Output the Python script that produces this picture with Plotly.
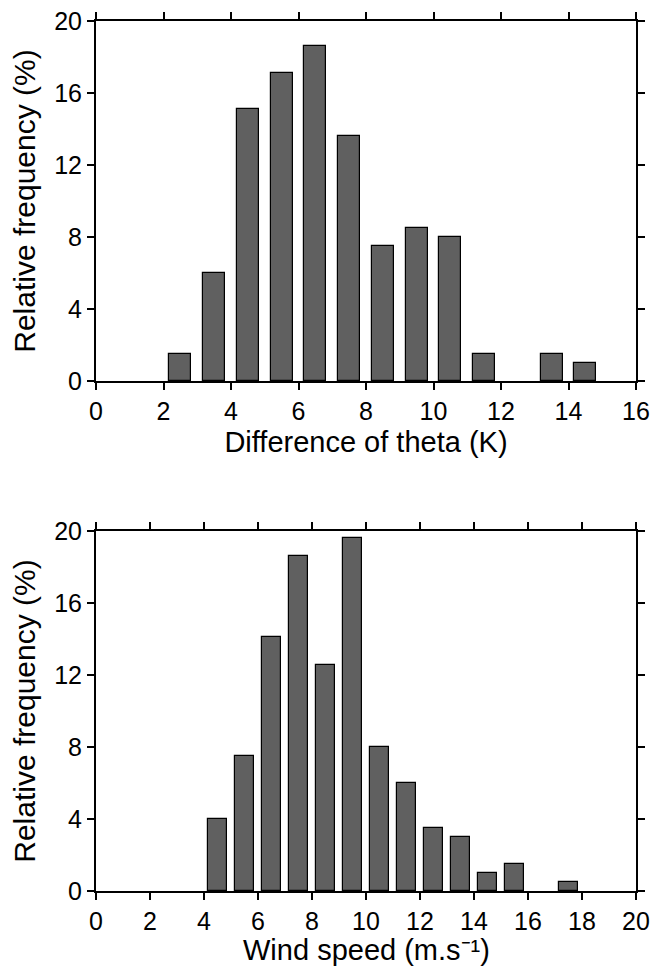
import plotly.graph_objects as go

# Top panel: difference of potential temperature (K)
theta_centers = [2.5, 3.5, 4.5, 5.5, 6.5, 7.5, 8.5, 9.5, 10.5, 11.5, 12.5, 13.5, 14.5]
theta_freq = [1.5, 6.0, 15.1, 17.1, 18.6, 13.6, 7.5, 8.5, 8.0, 1.5, 0.0, 1.5, 1.0]

# Bottom panel: wind speed (m/s)
wind_centers = [4.5, 5.5, 6.5, 7.5, 8.5, 9.5, 10.5, 11.5, 12.5, 13.5, 14.5, 15.5, 16.5, 17.5]
wind_freq = [4.0, 7.5, 14.1, 18.6, 12.55, 19.6, 8.0, 6.0, 3.5, 3.0, 1.0, 1.5, 0.0, 0.5]

W, H = 652, 968
FONT = "Liberation Sans, Arial, Helvetica, sans-serif"
BAR_COLOR = "#606060"


def outline_widths(vals):
    return [1.2 if v > 0 else 0 for v in vals]


fig = go.Figure()
fig.add_trace(go.Bar(x=theta_centers, y=theta_freq, width=0.65,
                     marker=dict(color=BAR_COLOR,
                                 line=dict(color="black", width=outline_widths(theta_freq))),
                     xaxis="x", yaxis="y", showlegend=False))
fig.add_trace(go.Bar(x=wind_centers, y=wind_freq, width=0.7,
                     marker=dict(color=BAR_COLOR,
                                 line=dict(color="black", width=outline_widths(wind_freq))),
                     xaxis="x2", yaxis="y2", showlegend=False))

xdom = [96 / W, 636 / W]
top_dom = [1 - 381 / H, 1 - 21 / H]
bot_dom = [1 - 891 / H, 1 - 531 / H]


def xax(title, rng, dom_anchor):
    d = dict(domain=xdom, anchor=dom_anchor, range=rng, dtick=2, tick0=0,
             showline=True, linecolor="black", linewidth=2, mirror="ticks",
             ticks="outside", ticklen=7, tickwidth=1.5, tickcolor="black",
             showgrid=False, zeroline=False, fixedrange=True, automargin=False,
             tickfont=dict(family=FONT, size=25, color="black"))
    if title:
        d["title"] = dict(text=title, font=dict(family=FONT, size=29, color="black"),
                          standoff=8)
    return d


def yax(dom, dom_anchor):
    return dict(domain=dom, anchor=dom_anchor, range=[0, 20], dtick=4, tick0=0,
                showline=True, linecolor="black", linewidth=2, mirror="ticks",
                ticks="outside", ticklen=7, tickwidth=1.5, tickcolor="black",
                showgrid=False, zeroline=False, fixedrange=True, automargin=False,
                tickfont=dict(family=FONT, size=25, color="black"),
                title=dict(text="Relative frequency (%)",
                           font=dict(family=FONT, size=30, color="black"),
                           standoff=10))


fig.update_layout(
    width=W, height=H,
    margin=dict(l=0, r=0, t=0, b=0),
    paper_bgcolor="white", plot_bgcolor="white",
    xaxis=xax("Difference of theta (K)", [0, 16], "y"),
    yaxis=yax(top_dom, "x"),
    xaxis2=xax(None, [0, 20], "y2"),
    yaxis2=yax(bot_dom, "x2"),
    bargap=0,
    annotations=[dict(text="Wind speed (m.s⁻¹)", xref="paper", yref="paper",
                      x=(xdom[0] + xdom[1]) / 2, y=0, xanchor="center", yanchor="bottom",
                      showarrow=False, font=dict(family=FONT, size=29, color="black"))],
)

fig.write_html("out.html")
